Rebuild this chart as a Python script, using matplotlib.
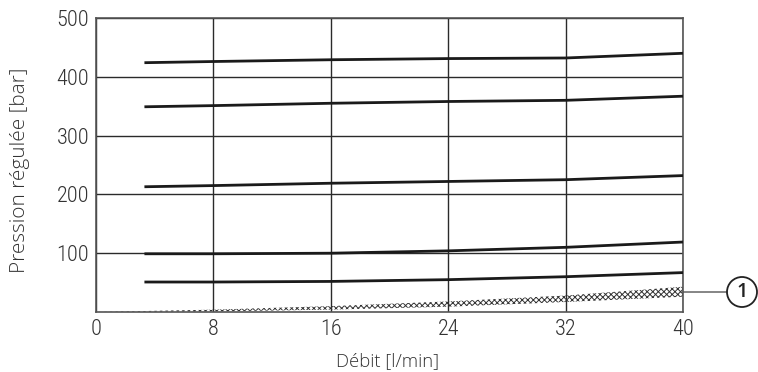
import matplotlib.pyplot as plt
from matplotlib.patches import Circle
import matplotlib.font_manager as fm
import numpy as np

# Regulated pressure vs flow, one curve per setting.

flow = [3.3, 8, 16, 24, 32, 40]
p425 = [424, 426, 429, 431, 432, 440]
p350 = [349, 351, 355, 358, 360, 367]
p215 = [213, 215, 219, 222, 225, 232]
p100 = [99, 99, 100, 104, 110, 119]
p50 = [51, 51, 52, 55, 60, 67]

band_x = [0, 8, 16, 24, 32, 40]
band_lo = [0, 1, 4, 9, 17, 26]
band_hi = [0, 4, 10, 18, 28, 43]
callout_y = 34

xticks = [0, 8, 16, 24, 32, 40]
yticks = [100, 200, 300, 400, 500]

names = {f.name for f in fm.fontManager.ttflist}
tick_font = "DejaVu Sans"
for cand in ["Roboto Condensed", "Liberation Sans Narrow", "DejaVu Sans Condensed"]:
    if cand in names:
        tick_font = cand
        break
label_font = "Open Sans" if "Open Sans" in names else "DejaVu Sans"

fig = plt.figure(figsize=(7.58, 3.72), dpi=100)
ax = fig.add_axes([96/758, 60/372, 587/758, 294/372])

for p in [p425, p350, p215, p100, p50]:
    ax.plot(flow, p, color="#1a1a1a", lw=2.0, solid_capstyle="butt", zorder=3)

plt.rcParams['hatch.linewidth'] = 0.7
ax.fill_between(band_x, band_lo, band_hi, facecolor="none",
                edgecolor="#333333", hatch="xxxxxx", lw=0, zorder=2)

ax.set_xlim(0, 40)
ax.set_ylim(0, 500)
ax.set_xticks(xticks)
ax.set_yticks(yticks)
ax.grid(True, color="#2a2a2a", lw=1.0)
ax.tick_params(length=0, pad=5, labelsize=16, labelcolor="#333333")
for lab in ax.get_xticklabels() + ax.get_yticklabels():
    lab.set_family(tick_font)
    lab.set_fontstretch("condensed")
    lab.set_fontweight("light")
for s in ax.spines.values():
    s.set_color("#555555")
    s.set_linewidth(1.2)

xl = fig.text(388/758, 1 - 361/372, "Débit [l/min]", ha="center", va="center",
              fontsize=11.5, color="#333333", family=label_font, fontweight="light")
yl = fig.text(20/758, 1 - 170/372, "Pression régulée [bar]", ha="center", va="center",
              rotation=90, fontsize=11.5, color="#333333", family=label_font,
              fontweight="light")

# size the axis titles to the widths they have in the reference
r = fig.canvas.get_renderer()
w = xl.get_window_extent(r).width
xl.set_fontsize(11.5 * 103 / w)
h = yl.get_window_extent(r).height
yl.set_fontsize(11.5 * 205 / h)

# callout 1
cx, cy, rad = 742/758, 1 - 292/372, 15
ax.annotate("", xy=(40, callout_y), xycoords="data",
            xytext=((742 - rad)/758, cy), textcoords="figure fraction",
            arrowprops=dict(arrowstyle="-", color="#555555", lw=1.0,
                            shrinkA=0, shrinkB=0))
fig.patches.append(Circle((742, 372 - 292), rad, transform=None, fill=False,
                          edgecolor="#222222", lw=1.3))
fig.text(cx, cy, "1", ha="center", va="center", fontsize=14,
         color="#222222", family=label_font, fontweight="semibold")

plt.savefig("out.png", dpi=100)
